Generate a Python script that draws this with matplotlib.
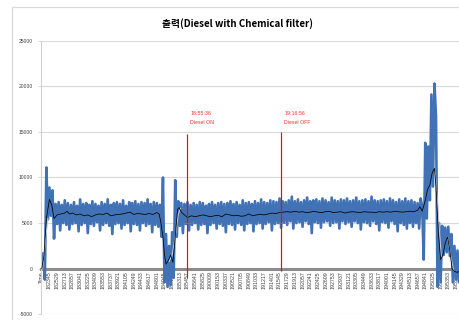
import numpy as np
import matplotlib
matplotlib.use("Agg")
import matplotlib.pyplot as plt
from matplotlib.patches import Rectangle

# Category labels on the time axis (one label every 104 samples in the source sheet)
time_labels = ["Time", "182345", "182529", "182713", "182857", "183041", "183225",
               "183409", "183553", "183737", "183921", "184105", "184249", "184433",
               "184617", "184801", "184945", "185129", "185313", "185457", "185641",
               "185825", "190009", "190153", "190337", "190521", "190705", "190849",
               "191033", "191217", "191401", "191545", "191729", "191913", "192057",
               "192241", "192425", "192609", "192753", "192937", "193121", "193305",
               "193449", "193633", "193817", "194001", "194145", "194329", "194513",
               "194657", "194841", "195025", "195209", "195353", "195537"]

sample_step = 0.2
output_raw = [
    200, 1700, -1200, 11100, 5400, 8900, 5800, 8600, 3300, 7100, 4900, 7300, 4200, 7000, 5000, 7500, 4800, 7200, 4300, 7000,
    4900, 7300, 5000, 6900, 4100, 7600, 4800, 7100, 5000, 7200, 3900, 7000, 4900, 7400, 4700, 7100, 5100, 6900, 4200, 7300,
    4800, 7100, 5000, 7600, 4700, 7000, 3800, 7200, 4900, 7300, 5000, 7100, 4400, 7500, 4800, 6900, 5000, 7300, 4100, 7200,
    4900, 7400, 4800, 7100, 4200, 7300, 5000, 7200, 4700, 7600, 4900, 7100, 4000, 7300, 4800, 7200, 4600, 7000, 3500, 10000,
    -1500, 3800, -2000, 2500, -1800, 4000, -1000, 9700, 3500, 7400, 4700, 7200, 3900, 7100, 4900, 7300, 4200, 7000, 4800, 7200,
    5000, 7000, 4300, 7300, 4800, 7200, 4900, 6900, 3900, 7100, 4800, 7300, 5000, 7000, 4400, 7200, 4900, 7300, 4700, 7100,
    4000, 7200, 4900, 7400, 4800, 7100, 4300, 7300, 5000, 7000, 4800, 7500, 4200, 7200, 4900, 7300, 5000, 7100, 4100, 7400,
    4900, 7200, 5000, 7600, 4400, 7300, 4900, 7200, 5100, 7500, 4200, 7400, 4900, 7300, 5000, 7700, 4500, 7400, 5100, 7300,
    4800, 7500, 5200, 7900, 4400, 7400, 5000, 7600, 5100, 7300, 4600, 7500, 5200, 7800, 4900, 7400, 3900, 7500, 5100, 7600,
    5000, 7400, 4500, 7700, 5100, 7500, 5200, 7300, 4700, 7800, 5000, 7500, 5100, 7400, 4400, 7600, 5200, 7500, 4900, 7700,
    5100, 7400, 4600, 7500, 5200, 7800, 5000, 7400, 4300, 7500, 5100, 7600, 5000, 7400, 4700, 7900, 5200, 7500, 4900, 7400,
    4200, 7500, 5100, 7600, 5000, 7400, 4500, 7700, 5200, 7500, 4900, 7300, 4100, 7600, 5000, 7400, 4800, 7700, 4400, 7400,
    5000, 7500, 4600, 7300, 5000, 7200, 4400, 7700, 6800, 1000, 13800, 5500, 13400, 7500, 19100, 9000, 20300, 16700, -2000, 5000,
    -1500, 4700, 1500, 4500, 1800, 4600, 1400, 3800, -1500, 2500, -1200, 2000, -1500, 1800, -1000, 1500,
]

# Moving average (black)
avg_x = [0, 0.3, 0.6, 1.0, 1.3, 1.6, 2.0, 2.5, 3.0, 3.3, 3.6, 4.0, 4.5, 5.0, 5.5, 6.0, 6.5, 7.0,
         7.5, 8.0, 8.5, 9.0, 9.5, 10, 10.5, 11, 11.5, 12, 12.5, 13, 13.5, 14, 14.5, 15, 15.3,
         15.5, 15.8, 16.0, 16.2, 16.5, 16.8, 17.1, 17.4, 17.7, 17.9, 18.2, 18.6, 19.0, 19.5,
         20, 20.5, 21, 21.5, 22, 22.5, 23, 23.5, 24, 24.5, 25, 25.5, 26, 26.5, 27, 27.5, 28,
         28.5, 29, 29.5, 30, 30.5, 31, 31.5, 32, 32.5, 33, 33.5, 34, 34.5, 35, 35.5, 36, 36.5,
         37, 37.5, 38, 38.5, 39, 39.5, 40, 40.5, 41, 41.5, 42, 42.5, 43, 43.5, 44, 44.5, 45,
         45.5, 46, 46.5, 47, 47.5, 48, 48.5, 49, 49.3, 49.6, 50.0, 50.3, 50.6, 50.9, 51.2,
         51.4, 51.7, 52.0, 52.3, 52.6, 52.9, 53.2, 53.5, 53.8, 54.2, 54.6, 55]
avg_y = [0, 1500, 5500, 7600, 7000, 5500, 5900, 6000, 6100, 6300, 6000, 6100, 5900, 6000, 5800,
         5900, 5700, 5900, 6000, 5950, 6100, 5800, 5900, 5950, 6000, 6100, 6200, 5950, 6050,
         6000, 5950, 6050, 5950, 6150, 6000, 5200, 3500, 1500, 500, 900, 1500, 700, 3500, 6500,
         6700, 6200, 5900, 5600, 5800, 5700, 5800, 5900, 5800, 5700, 5800, 5850, 5700, 6000,
         5900, 5800, 5850, 5750, 5800, 6000, 5800, 5900, 5950, 5900, 6000, 6100, 6050, 6150,
         6200, 6250, 6200, 6300, 6200, 6250, 6150, 6200, 6300, 6200, 6150, 6250, 6300, 6150,
         6200, 6250, 6100, 6200, 6250, 6200, 6150, 6250, 6200, 6200, 6150, 6250, 6200, 6250,
         6200, 6300, 6250, 6200, 6250, 6300, 6250, 6400, 6800, 6300, 7500, 8700, 9200, 10500,
         11000, 9000, 4000, 1000, 1500, 2800, 3500, 2000, 0, -300, -400, -200, -300]

# Lagged average (light gray), only visible in the fast-changing parts
lag_x = [0.1, 0.4, 0.8, np.nan, 16.6, 17.0, 17.4, 17.8, 18.1, np.nan,
         51.3, 51.7, 52.1, np.nan, 52.9, 53.3, 53.7]
lag_y = [0, 2500, 5500, np.nan, 800, 1500, 3500, 6000, 6600, np.nan,
         10500, 6000, 1200, np.nan, 3500, 1500, -200]

# Diesel on/off markers
event_x = [19.0, 31.25]
event_top = [14770, 15000]
event_bottom = [-1000, -200]
event_times = ["18:55:36", "19:16:56"]
event_names = ["Diesel ON", "Diesel OFF"]

title = "출력(Diesel with Chemical filter)"

W, H = 459, 320
fig = plt.figure(figsize=(W / 100, H / 100), dpi=100)
fig.patch.set_facecolor("white")

# chart frame (cropped on the right and bottom)
fig.add_artist(Rectangle((12 / W, -0.2), 1.2, 1.2 - 7 / H, transform=fig.transFigure,
                         fill=False, edgecolor="#d9d9d9", linewidth=0.9))

px_per_label = 7.67
x0 = -0.1
x1 = x0 + (W * 1.05) / px_per_label
ax = fig.add_axes([41.0 / W, 1 - 314.3 / H, (x1 - x0) * px_per_label / W, (314.3 - 40.7) / H])
ax.set_xlim(x0, x1)
ax.set_ylim(-5000, 25000)

x_out = np.arange(len(output_raw)) * sample_step
ax.plot(x_out, output_raw, color="#4272b6", linewidth=1.9, zorder=2)
ax.plot(lag_x, lag_y, color="#c8c8c8", linewidth=0.8, zorder=3)
ax.plot(avg_x, avg_y, color="black", linewidth=0.55, zorder=4)

for x, top, bot, t, name in zip(event_x, event_top, event_bottom, event_times, event_names):
    ax.vlines(x, bot, top, color="#ff0000", linewidth=0.85, zorder=5)
    ax.hlines(5000, x - 0.6, x + 0.9, color="#ff4040", linewidth=0.6, zorder=5)
    ax.text(x + 0.35, 17000, t, color="#ff3030", fontsize=3.8, ha="left", va="center",
            family="Liberation Sans")
    ax.text(x + 0.35, 16000, name, color="#ff3030", fontsize=3.8, ha="left", va="center",
            family="Liberation Sans")

ax.set_yticks(range(-5000, 25001, 5000))
ax.set_yticklabels([str(v) for v in range(-5000, 25001, 5000)])
ax.yaxis.grid(True, color="#d9d9d9", linewidth=0.8)
ax.set_axisbelow(True)

ax.set_xticks(range(len(time_labels)))
ax.set_xticklabels(time_labels)

for side in ["top", "right"]:
    ax.spines[side].set_visible(False)
ax.spines["left"].set_color("#d0d0d0")
ax.spines["left"].set_linewidth(0.8)
ax.spines["bottom"].set_position(("data", 0))
ax.spines["bottom"].set_color("#8c8c8c")
ax.spines["bottom"].set_linewidth(2.2)
ax.spines["bottom"].set_zorder(1)

ax.tick_params(axis="y", length=2, width=0.6, color="#d0d0d0", pad=4,
               labelsize=3.6, labelcolor="#404040", labelfontfamily="Liberation Sans")
ax.tick_params(axis="x", length=0, pad=2, labelsize=3.8, labelcolor="#404040",
               labelfontfamily="Liberation Sans", labelrotation=90)

fig.text(238 / W, 1 - 24 / H, title, ha="center", va="center", fontsize=7.0, fontweight="bold",
         family=["Noto Sans CJK KR", "DejaVu Sans"])

fig.savefig("out.png", dpi=100)
